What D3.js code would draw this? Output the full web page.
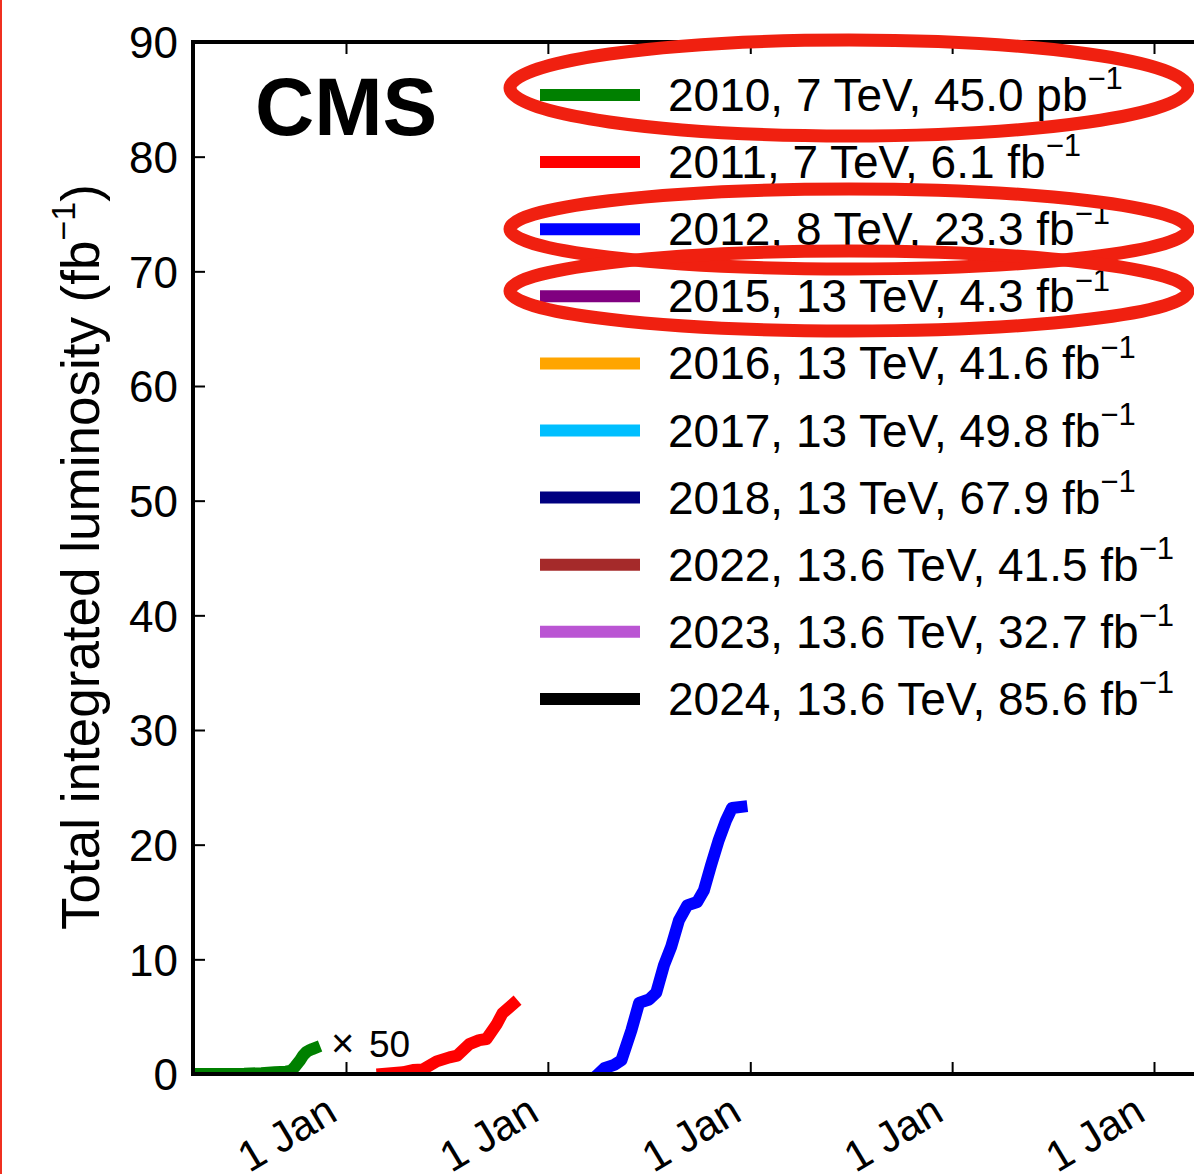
<!DOCTYPE html>
<html>
<head>
<meta charset="utf-8">
<script src="https://cdn.jsdelivr.net/npm/d3@7"></script>
<style>
  body { margin: 0; background: #fff; }
  text { font-family: "Liberation Sans", Arial, sans-serif; fill: #000; }
</style>
</head>
<body>
<div id="chart"></div>
<script>
// Data
// 2010 is stored in pb^-1 and drawn x50 (converted to fb^-1)
var lumi2010 = [
  ["2010-03-31", 0], ["2010-05-15", 0.02], ["2010-07-01", 0.3], ["2010-08-01", 1.5],
  ["2010-08-25", 3.0], ["2010-09-15", 4.0], ["2010-09-24", 6], ["2010-10-01", 13],
  ["2010-10-10", 24], ["2010-10-16", 33], ["2010-10-21", 38], ["2010-10-26", 41],
  ["2010-11-01", 43.5], ["2010-11-05", 45.0]
];
var lumi2011 = [
  ["2011-03-08", 0], ["2011-04-14", 0.15], ["2011-05-02", 0.35], ["2011-05-20", 0.4],
  ["2011-06-14", 1.1], ["2011-07-07", 1.45], ["2011-07-21", 1.6], ["2011-08-12", 2.6],
  ["2011-08-30", 2.95], ["2011-09-12", 3.05], ["2011-09-30", 4.3], ["2011-10-11", 5.3],
  ["2011-10-30", 6.1]
];
var lumi2012 = [
  ["2012-04-01", 0], ["2012-04-12", 0.5], ["2012-04-30", 0.8], ["2012-05-13", 1.2],
  ["2012-05-31", 3.8], ["2012-06-14", 6.2], ["2012-07-02", 6.5], ["2012-07-15", 7.1],
  ["2012-07-29", 9.5], ["2012-08-11", 11.1], ["2012-08-25", 13.4], ["2012-09-09", 14.7],
  ["2012-09-27", 15.0], ["2012-10-09", 16.0], ["2012-10-22", 18.2], ["2012-11-05", 20.4],
  ["2012-11-18", 22.1], ["2012-11-29", 23.2], ["2012-12-16", 23.3]
];

var legendYears = ["2010", "2011", "2012", "2015", "2016", "2017", "2018", "2022", "2023", "2024"];
var legendEnergy = ["7 TeV", "7 TeV", "8 TeV", "13 TeV", "13 TeV", "13 TeV", "13 TeV", "13.6 TeV", "13.6 TeV", "13.6 TeV"];
var legendTotals = ["45.0", "6.1", "23.3", "4.3", "41.6", "49.8", "67.9", "41.5", "32.7", "85.6"];
var legendUnits = ["pb", "fb", "fb", "fb", "fb", "fb", "fb", "fb", "fb", "fb"];
var legendColors = ["green", "red", "blue", "purple", "orange", "#00bfff", "navy", "brown", "#ba55d3", "black"];

var yTicks = [0, 10, 20, 30, 40, 50, 60, 70, 80, 90];
var xTickLabel = "1 Jan";
var circled = [0, 2, 3]; // legend rows marked with red ellipses

// Layout
var svgWidth = 1194;
var svgHeight = 1174;
var plot = { left: 193, top: 42, bottom: 1074, right: 1400 };

var svg = d3.select("#chart")
  .append("svg")
  .attr("width", svgWidth)
  .attr("height", svgHeight);

var parse = d3.timeParse("%Y-%m-%d");

// Scales
var xScale = d3.scaleTime()
  .domain([parse("2011-01-01"), parse("2015-01-01")])
  .range([346, 1154]);

var yScale = d3.scaleLinear()
  .domain([0, 90])
  .range([plot.bottom, plot.top]);

var xStart = xScale.invert(plot.left);
var xEnd = xScale.invert(plot.right);
var yearTicks = d3.timeYear.range(d3.timeYear.ceil(xStart), xEnd);

// Clip
svg.append("clipPath")
  .attr("id", "plotclip")
  .append("rect")
  .attr("x", plot.left)
  .attr("y", plot.top)
  .attr("width", plot.right - plot.left)
  .attr("height", plot.bottom - plot.top);

// Lines
var line = d3.line()
  .x(d => xScale(parse(d[0])))
  .y(d => yScale(d[1]));

var series = [
  { data: lumi2010.map(d => [d[0], d[1] * 50 / 1000]), color: legendColors[0] },
  { data: lumi2011, color: legendColors[1] },
  { data: lumi2012, color: legendColors[2] }
];

var linesGroup = svg.append("g").attr("clip-path", "url(#plotclip)");
series.forEach(function(s) {
  linesGroup.append("path")
    .attr("d", line(s.data))
    .attr("fill", "none")
    .attr("stroke", s.color)
    .attr("stroke-width", 12)
    .attr("stroke-linejoin", "round")
    .attr("stroke-linecap", "square");
});

// Axes
var leftAxis = d3.axisLeft(yScale)
  .tickValues(yTicks)
  .tickSize(-12)
  .tickPadding(15);

var yAxis = svg.append("g")
  .attr("transform", `translate(${plot.left}, 0)`)
  .call(leftAxis);
yAxis.select(".domain").remove();
yAxis.selectAll(".tick line").attr("stroke-width", 2);
yAxis.selectAll("text")
  .attr("font-size", "44px")
  .attr("font-family", "Liberation Sans, Arial, sans-serif")
  .attr("dy", "0.36em");

var bottomAxis = d3.axisBottom(xScale)
  .tickValues(yearTicks)
  .tickSize(-12)
  .tickFormat(() => xTickLabel);

var xAxis = svg.append("g")
  .attr("transform", `translate(0, ${plot.bottom})`)
  .call(bottomAxis);
xAxis.select(".domain").remove();
xAxis.selectAll(".tick line").attr("stroke-width", 2);
xAxis.selectAll("text")
  .attr("font-size", "43px")
  .attr("font-family", "Liberation Sans, Arial, sans-serif")
  .attr("text-anchor", "end")
  .attr("dy", null)
  .attr("y", 0)
  .attr("transform", "translate(-7, 45) rotate(-31)");

var topAxis = d3.axisTop(xScale)
  .tickValues(yearTicks)
  .tickSize(-12)
  .tickFormat("");
var xTop = svg.append("g")
  .attr("transform", `translate(0, ${plot.top})`)
  .call(topAxis);
xTop.select(".domain").remove();
xTop.selectAll(".tick line").attr("stroke-width", 2);

// Frame
svg.append("path")
  .attr("d", `M${plot.right},${plot.top}H${plot.left}V${plot.bottom}H${plot.right}`)
  .attr("fill", "none")
  .attr("stroke", "#000")
  .attr("stroke-width", 4);

// Y label
var yLabel = svg.append("text")
  .attr("transform", "translate(99, 557) rotate(-90)")
  .attr("text-anchor", "middle")
  .attr("font-size", "53px");
yLabel.append("tspan").text("Total integrated luminosity (fb");
yLabel.append("tspan").attr("font-size", "34px").attr("dy", "-0.7em").text("\u22121");
yLabel.append("tspan").attr("dy", "0.45em").text(")");

// CMS
svg.append("text")
  .attr("x", 255)
  .attr("y", 135)
  .attr("font-size", "82px")
  .attr("font-weight", "bold")
  .text("CMS");

// x50 note
svg.append("text")
  .attr("x", 331)
  .attr("y", 1057)
  .attr("font-family", "DejaVu Sans, sans-serif")
  .attr("font-size", "40px")
  .attr("font-weight", "300")
  .text("\u00d7");
svg.append("text")
  .attr("x", 369)
  .attr("y", 1057)
  .attr("font-family", "DejaVu Sans, sans-serif")
  .attr("font-size", "37px")
  .text("50");

// Legend
var legend = svg.append("g");
legendYears.forEach(function(yr, i) {
  var cy = 95 + i * 67.1;
  legend.append("line")
    .attr("x1", 540).attr("x2", 640)
    .attr("y1", cy).attr("y2", cy)
    .attr("stroke", legendColors[i])
    .attr("stroke-width", 12);
  var t = legend.append("text")
    .attr("x", 668)
    .attr("y", cy + 16)
    .attr("font-size", "46px");
  t.append("tspan").text(`${yr}, ${legendEnergy[i]}, ${legendTotals[i]} ${legendUnits[i]}`);
  t.append("tspan").attr("font-size", "31px").attr("dy", "-0.7em").text("\u22121");
});

// Red ellipse marks
var ellipseCy = [88, 229, 291];
var ellipseRy = [48, 40, 40];
circled.forEach(function(row, k) {
  svg.append("ellipse")
    .attr("cx", 849)
    .attr("cy", ellipseCy[k])
    .attr("rx", 339)
    .attr("ry", ellipseRy[k])
    .attr("fill", "none")
    .attr("stroke", "#f02010")
    .attr("stroke-width", 13);
});

// Left red edge
svg.append("line")
  .attr("x1", 1).attr("x2", 1)
  .attr("y1", 0).attr("y2", svgHeight)
  .attr("stroke", "#f03020")
  .attr("stroke-width", 2);
</script>
</body>
</html>
